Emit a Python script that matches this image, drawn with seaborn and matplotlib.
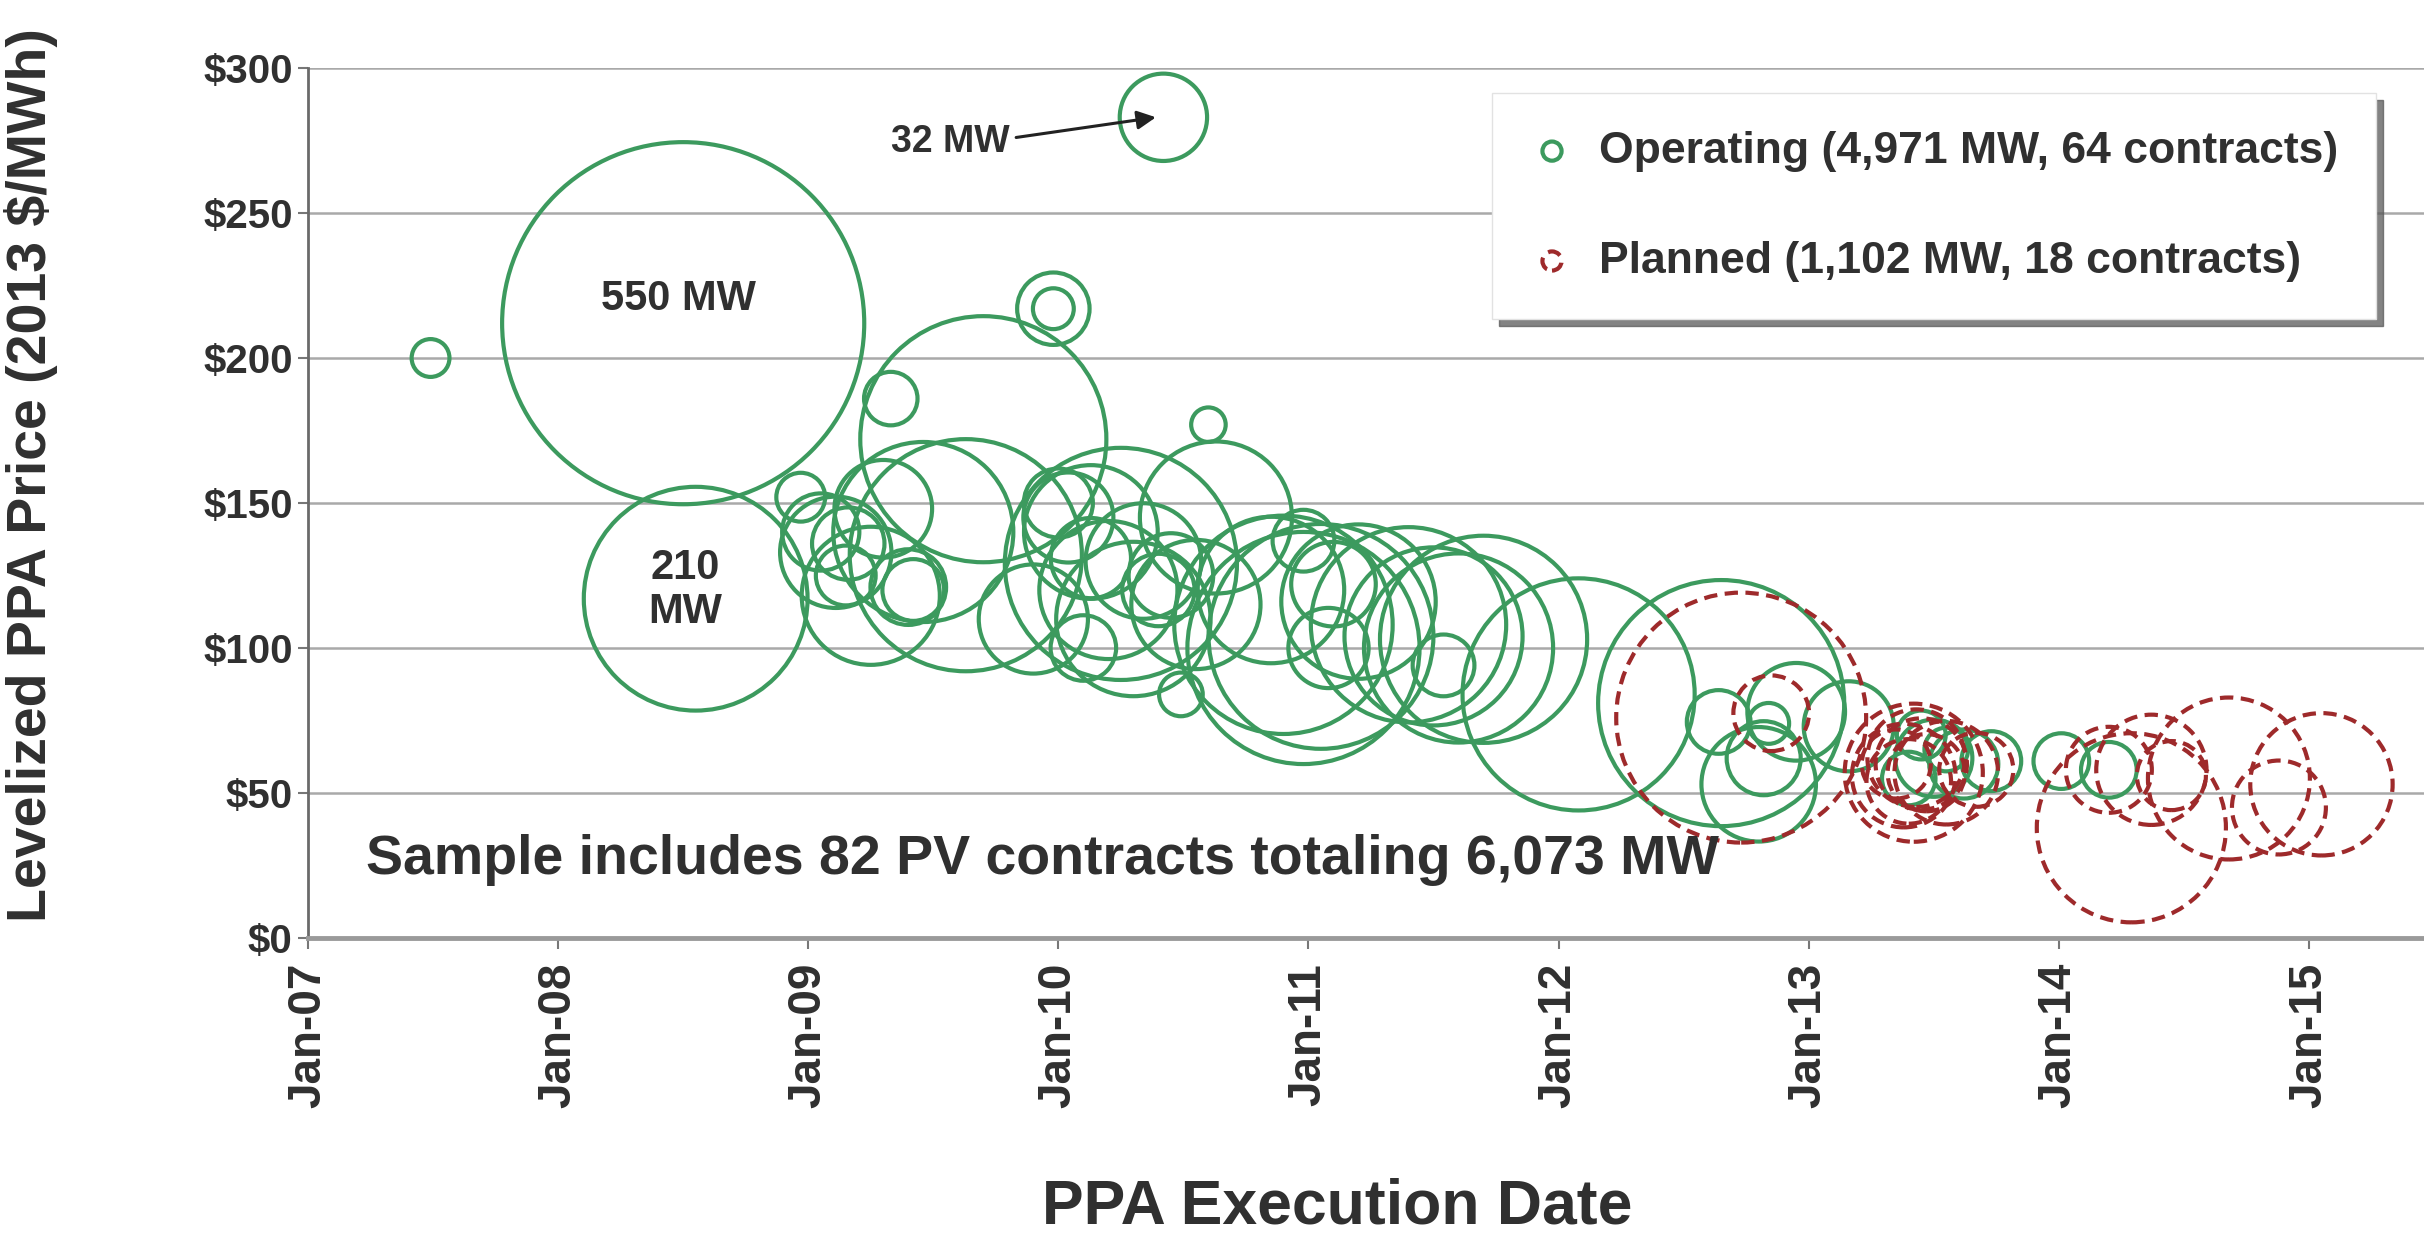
import numpy as np
import pandas as pd
import matplotlib
matplotlib.use("Agg")
import matplotlib.pyplot as plt
import seaborn as sns
from matplotlib.collections import PathCollection
from matplotlib.legend_handler import HandlerPathCollection

# ---------------- data ----------------
# Operating contracts: execution date (decimal year), levelized price ($/MWh), capacity (MW)
op_date = [2007.49, 2008.50, 2008.55, 2009.33, 2009.70, 2009.98, 2009.98, 2010.60, 2010.42,
           2008.97, 2009.05, 2009.16, 2009.11, 2009.15, 2009.25, 2009.40, 2009.46, 2009.63,
           2009.42, 2009.30, 2009.90, 2010.04, 2010.13, 2010.13, 2010.25, 2010.34, 2010.40,
           2010.63, 2010.49, 2010.00, 2010.20, 2010.30, 2010.55, 2010.45, 2010.10, 2010.98,
           2010.90, 2011.05, 2010.98, 2011.08, 2011.54, 2011.50, 2011.40, 2011.60, 2011.20,
           2011.10, 2010.85, 2011.70, 2012.08, 2012.65, 2012.64, 2012.84, 2012.82, 2012.80,
           2013.16, 2012.95, 2013.45, 2013.50, 2013.62, 2013.73, 2014.01, 2014.20, 2013.40,
           2013.55]
op_price = [200, 212, 117, 186, 172, 217, 217, 177, 283,
            152, 140, 136, 133, 125, 118, 121, 140, 132,
            120, 148, 110, 145, 140, 131, 129, 130, 120,
            145, 84, 150, 120, 110, 115, 125, 100, 100,
            108, 104, 137, 100, 94, 104, 108, 100, 116,
            122, 120, 103, 84, 81, 74.5, 74, 62, 53,
            73, 78, 70, 62, 60, 61, 61, 58, 55,
            65]
op_mw = [6, 550, 210, 12, 254, 22, 7, 5, 32,
         10, 25, 22, 52, 15, 80, 24, 136, 226,
         16, 40, 50, 34, 75, 27, 226, 56, 22,
         97, 8, 20, 80, 100, 70, 30, 18, 226,
         200, 212, 16, 27, 16, 133, 160, 150, 100,
         30, 90, 180, 226, 254, 17, 7, 23, 55,
         34, 40, 10, 25, 20, 15, 13, 13, 12,
         8]

# Planned contracts
pl_date = [2012.73, 2012.85, 2013.42, 2013.38, 2013.45, 2013.40, 2013.47, 2013.35, 2013.43,
           2013.67, 2014.20, 2014.29, 2014.37, 2014.68, 2014.88, 2015.05, 2013.55, 2014.45]
pl_price = [76, 77.5, 57, 56, 60, 54, 57, 60, 62,
            58, 58, 38, 58, 55, 45, 53, 57, 56]
pl_mw = [262, 24, 80, 45, 35, 30, 25, 20, 40,
         23, 31, 150, 51, 110, 37, 85, 45, 20]

year_ticks = [2007, 2008, 2009, 2010, 2011, 2012, 2013, 2014, 2015]
year_labels = ["Jan-07", "Jan-08", "Jan-09", "Jan-10", "Jan-11",
               "Jan-12", "Jan-13", "Jan-14", "Jan-15"]
price_ticks = [0, 50, 100, 150, 200, 250, 300]
price_labels = ["$0", "$50", "$100", "$150", "$200", "$250", "$300"]

legend_labels = ["Operating (4,971 MW, 64 contracts)",
                 "Planned (1,102 MW, 18 contracts)"]

# ---------------- styling ----------------
sns.set_style("white")
plt.rcParams["font.family"] = ["Liberation Sans", "DejaVu Sans"]
plt.rcParams["font.weight"] = "bold"
plt.rcParams["axes.labelweight"] = "bold"

GREEN = "#3c9a5e"
RED = "#9e2a2b"
TXT = "#303030"

W, H = 2424, 1249
fig = plt.figure(figsize=(W / 100, H / 100), dpi=100)
fig.patch.set_facecolor("white")
L, R, T, B = 308, 2424, 68, 938
ax = fig.add_axes([L / W, 1 - B / H, (R - L) / W, (B - T) / H])

op = pd.DataFrame({"date": op_date, "price": op_price, "mw": op_mw})
pl = pd.DataFrame({"date": pl_date, "price": pl_price, "mw": pl_mw})

# marker area proportional to MW
SIZE_NORM = (0, 1000)
SIZES = (0, 123600)

sns.scatterplot(data=op, x="date", y="price", size="mw", sizes=SIZES,
                size_norm=SIZE_NORM, facecolor="none", edgecolor=GREEN,
                color=GREEN, linewidth=3.0, legend=False, ax=ax, zorder=3,
                clip_on=False)
sns.scatterplot(data=pl, x="date", y="price", size="mw", sizes=SIZES,
                size_norm=SIZE_NORM, facecolor="none", edgecolor=RED,
                color=RED, linewidth=3.0, linestyle=(0, (3.2, 1.8)),
                legend=False, ax=ax, zorder=4, clip_on=False)

ax.set_xlim(2007, 2015.46)
ax.set_ylim(0, 300)
ax.set_xticks(year_ticks, year_labels, rotation=90)
ax.set_yticks(price_ticks, price_labels)

ax.yaxis.grid(True, color="#a9a9a9", linewidth=1.8)
ax.xaxis.grid(False)
ax.set_axisbelow(True)

for s in ["top", "right"]:
    ax.spines[s].set_visible(False)
ax.spines["left"].set_color("#6a6a6a")
ax.spines["left"].set_linewidth(2.0)
ax.spines["bottom"].set_color("#9a9a9a")
ax.spines["bottom"].set_linewidth(3.5)

ax.tick_params(axis="y", left=True, direction="out", length=7, width=1.5,
               color="#777777", pad=4, labelsize=29, labelcolor=TXT)
ax.tick_params(axis="x", bottom=True, direction="out", length=8, width=1.5,
               color="#777777", pad=10, labelsize=33, labelcolor=TXT)

ax.set_ylabel("Levelized PPA Price (2013 $/MWh)", fontsize=40, color=TXT,
              va="center")
ax.yaxis.set_label_coords((31 - L) / (R - L), (B - 475) / (B - T))
ax.set_xlabel("PPA Execution Date", fontsize=45, color=TXT, va="center")
ax.xaxis.set_label_coords((1337 - L) / (R - L), (B - 1207) / (B - T))

# annotations
ax.text(2008.48, 220.5, "550 MW", ha="center", va="center", fontsize=30,
        color=TXT, zorder=5)
ax.text(2008.51, 120, "210\nMW", ha="center", va="center", fontsize=30,
        color=TXT, linespacing=1.15, zorder=5)
ax.annotate("32 MW", xy=(2010.39, 283), xytext=(2009.57, 274.5),
            ha="center", va="center", fontsize=27, color=TXT, zorder=5,
            arrowprops=dict(arrowstyle="-|>", color="#222222", lw=2.2,
                            mutation_scale=28, relpos=(1.0, 0.6),
                            shrinkA=2, shrinkB=0))
ax.text(2007.23, 27, "Sample includes 82 PV contracts totaling 6,073 MW",
        ha="left", va="center", fontsize=40, color=TXT, zorder=5)

# legend using the drawn collections as handles
handles = [ax.collections[0], ax.collections[1]]
leg = ax.legend(handles=handles, labels=legend_labels, loc="upper left",
                bbox_to_anchor=((1492 - L) / (R - L), (B - 93) / (B - T)),
                borderaxespad=0, frameon=True, fancybox=False,
                shadow={"ox": 5, "oy": -5, "facecolor": "0.35",
                        "edgecolor": "0.35", "alpha": 0.75},
                fontsize=32, labelspacing=1.55, borderpad=0.85,
                handlelength=1.0, handletextpad=0.55, scatterpoints=1,
                handler_map={PathCollection: HandlerPathCollection(sizes=[190])})
leg.get_frame().set_facecolor("white")
leg.get_frame().set_edgecolor("#e2e2e2")
leg.get_frame().set_linewidth(1.0)
leg.set_zorder(10)
for t in leg.get_texts():
    t.set_color(TXT)

fig.savefig("out.png", dpi=100, facecolor="white")
